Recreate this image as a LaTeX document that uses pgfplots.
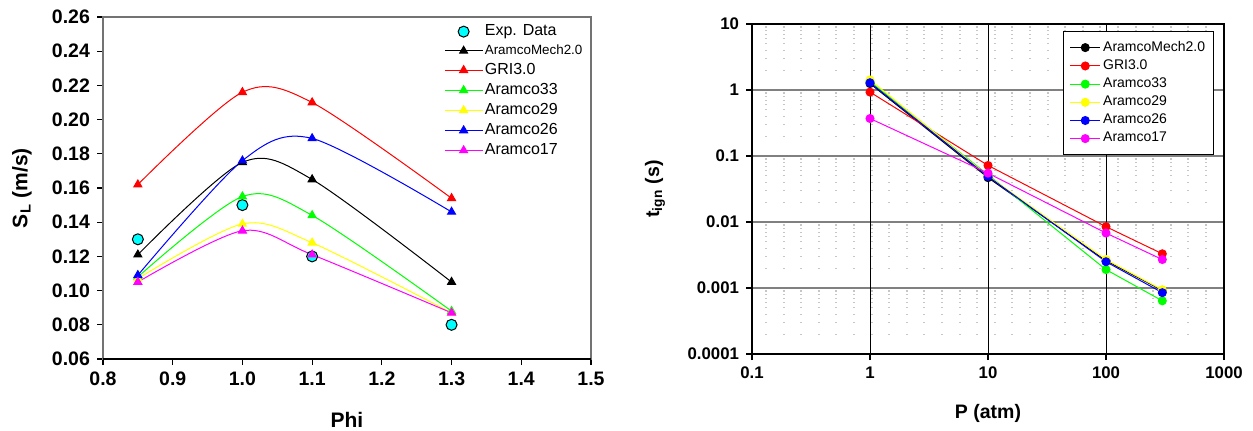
\documentclass[border=0pt]{standalone}
\usepackage{fontspec}
\setmainfont{Liberation Sans}
\usepackage{pgfplots}
\pgfplotsset{compat=1.18}
\definecolor{cgreen}{RGB}{0,255,0}
\definecolor{cyellow}{RGB}{255,255,0}
\definecolor{ccyan}{RGB}{0,255,255}
\definecolor{cmag}{RGB}{255,0,255}
\begin{document}
\begin{tikzpicture}
\path[use as bounding box] (0,0) rectangle (626.5pt,215pt);
% ---------------- left axis ----------------
\begin{axis}[
  at={(51.5pt,35.5pt)}, anchor=south west,
  width=244pt, height=171pt, scale only axis,
  xmin=0.8, xmax=1.5, ymin=0.06, ymax=0.26,
  xtick={0.8,0.9,1.0,1.1,1.2,1.3,1.4,1.5},
  xticklabels={0.8,0.9,1.0,1.1,1.2,1.3,1.4,1.5},
  ytick={0.06,0.08,0.10,0.12,0.14,0.16,0.18,0.20,0.22,0.24,0.26},
  yticklabels={0.06,0.08,0.10,0.12,0.14,0.16,0.18,0.20,0.22,0.24,0.26},
  tick label style={font=\fontsize{9.75}{11}\selectfont\bfseries},
  tick align=outside, major tick length=3pt,
  xtick pos=bottom, ytick pos=left,
  axis line style={draw=black!55, line width=0.9pt},
  tick style={black, line width=0.6pt},
  xlabel={Phi}, ylabel={S\textsubscript{L} (m/s)},
  label style={font=\fontsize{10.5}{12}\selectfont\bfseries},
  xlabel style={at={(axis description cs:0.5,-0.178)}, anchor=center},
  ylabel style={at={(axis description cs:-0.166,0.5)}, anchor=center},
  legend style={at={(0.687,0.997)}, anchor=north west, draw=none, fill=none,
    font=\fontsize{8}{9}\selectfont, row sep=0.75pt, nodes={inner sep=1.1pt}},
  legend cell align=left,
  legend image code/.code={\draw[mark repeat=2,mark phase=2] plot coordinates {(0pt,0pt) (9.25pt,0pt) (18.5pt,0pt)};},
]
\draw[black, line width=0.9pt] (rel axis cs:0,0) -- (rel axis cs:1,0);
\addplot[only marks, mark=*, mark size=2.75pt, mark options={fill=ccyan, draw=black, line width=0.5pt}]
  coordinates {(0.85,0.130) (1.0,0.150) (1.1,0.120) (1.3,0.080)};
\addlegendentry{Exp. Data}
\addplot[black, line width=0.5pt, smooth, mark=triangle*, mark size=2.3pt, mark options={fill=black}]
  coordinates {(0.85,0.121) (1.0,0.175) (1.1,0.165) (1.3,0.105)};
\addlegendentry{{\fontsize{6.7}{8}\selectfont AramcoMech2.0}}
\addplot[red, line width=0.5pt, smooth, mark=triangle*, mark size=2.3pt, mark options={fill=red}]
  coordinates {(0.85,0.162) (1.0,0.216) (1.1,0.210) (1.3,0.154)};
\addlegendentry{GRI3.0}
\addplot[cgreen, line width=0.5pt, smooth, mark=triangle*, mark size=2.3pt, mark options={fill=cgreen}]
  coordinates {(0.85,0.108) (1.0,0.155) (1.1,0.144) (1.3,0.088)};
\addlegendentry{Aramco33}
\addplot[cyellow, line width=0.5pt, smooth, mark=triangle*, mark size=2.3pt, mark options={fill=cyellow}]
  coordinates {(0.85,0.107) (1.0,0.139) (1.1,0.128) (1.3,0.087)};
\addlegendentry{Aramco29}
\addplot[blue, line width=0.5pt, smooth, mark=triangle*, mark size=2.3pt, mark options={fill=blue}]
  coordinates {(0.85,0.109) (1.0,0.176) (1.1,0.189) (1.3,0.146)};
\addlegendentry{Aramco26}
\addplot[cmag, line width=0.5pt, smooth, mark=triangle*, mark size=2.3pt, mark options={fill=cmag}]
  coordinates {(0.85,0.105) (1.0,0.135) (1.1,0.121) (1.3,0.087)};
\addlegendentry{Aramco17}
\end{axis}
% ---------------- right axis ----------------
\begin{axis}[
  at={(376pt,38pt)}, anchor=south west,
  width=236pt, height=165pt, scale only axis,
  xmode=log, ymode=log,
  xmin=0.1, xmax=1000, ymin=1e-4, ymax=10,
  xtick={0.1,1,10,100,1000}, xticklabels={0.1,1,10,100,1000},
  ytick={1e-4,1e-3,0.01,0.1,1,10}, yticklabels={0.0001,0.001,0.01,0.1,1,10},
  tick label style={font=\fontsize{8.4}{10}\selectfont\bfseries},
  tick align=outside, major tick length=3pt, minor tick length=0pt,
  xtick pos=bottom, ytick pos=left,
  axis line style={draw=black, line width=0.8pt},
  tick style={black, line width=0.6pt},
  ymajorgrids=true, yminorgrids=true,
  major grid style={black!50, line width=0.9pt},
  minor grid style={gray!45, line width=0.6pt, dash pattern=on 1pt off 7.8pt, dash phase=2.3pt},
  xlabel={P (atm)}, ylabel={t\textsubscript{ign} (s)},
  label style={font=\fontsize{9.75}{11}\selectfont\bfseries},
  xlabel style={at={(axis description cs:0.5,-0.179)}, anchor=center},
  ylabel style={at={(axis description cs:-0.2055,0.5)}, anchor=center},
  legend style={at={(0.659,0.979)}, anchor=north west, draw=black, line width=0.7pt, fill=white,
    font=\fontsize{7}{8}\selectfont, row sep=0.3pt, nodes={inner sep=1.2pt},
    inner xsep=3pt, inner ysep=3.5pt},
  legend cell align=left,
  legend image code/.code={\draw[mark repeat=2,mark phase=2] plot coordinates {(0pt,0pt) (7.5pt,0pt) (15pt,0pt)};},
]
\draw[black, line width=0.5pt] (axis cs:1,1e-4) -- (axis cs:1,10);
\draw[black, line width=0.5pt] (axis cs:10,1e-4) -- (axis cs:10,10);
\draw[black, line width=0.5pt] (axis cs:100,1e-4) -- (axis cs:100,10);
\addplot[black, line width=0.5pt, mark=*, mark size=2pt, mark options={fill=black}]
  coordinates {(1,1.25) (10,0.047) (100,0.0026) (300,0.00092)};
\addlegendentry{AramcoMech2.0}
\addplot[red, line width=0.5pt, mark=*, mark size=2pt, mark options={fill=red}]
  coordinates {(1,0.93) (10,0.072) (100,0.0085) (300,0.0033)};
\addlegendentry{GRI3.0}
\addplot[cgreen, line width=0.5pt, mark=*, mark size=2pt, mark options={fill=cgreen}]
  coordinates {(1,1.35) (10,0.052) (100,0.0019) (300,0.00064)};
\addlegendentry{Aramco33}
\addplot[cyellow, line width=0.5pt, mark=*, mark size=2pt, mark options={fill=cyellow}]
  coordinates {(1,1.42) (10,0.050) (100,0.0027) (300,0.00094)};
\addlegendentry{Aramco29}
\addplot[blue, line width=0.5pt, mark=*, mark size=2pt, mark options={fill=blue}]
  coordinates {(1,1.29) (10,0.049) (100,0.0025) (300,0.00085)};
\addlegendentry{Aramco26}
\addplot[cmag, line width=0.5pt, mark=*, mark size=2pt, mark options={fill=cmag}]
  coordinates {(1,0.37) (10,0.055) (100,0.0068) (300,0.0027)};
\addlegendentry{Aramco17}
\end{axis}
\end{tikzpicture}
\end{document}
